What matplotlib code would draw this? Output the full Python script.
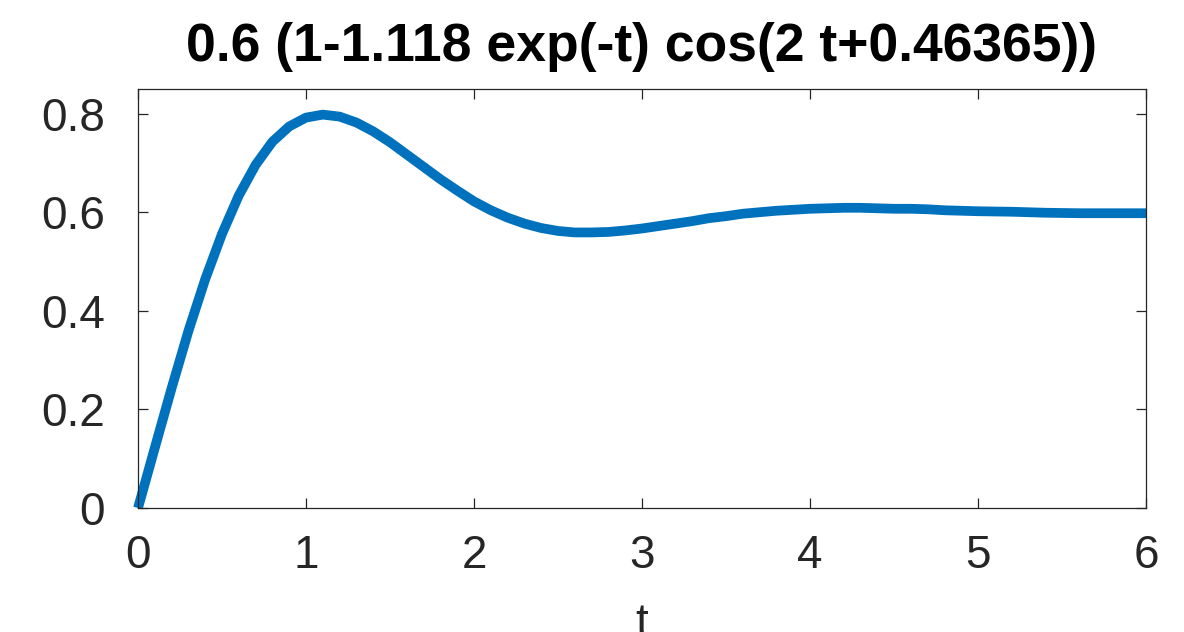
import numpy as np
import matplotlib.pyplot as plt

# step response values
t = [0.0, 0.1, 0.2, 0.3, 0.4, 0.5, 0.6, 0.7, 0.8, 0.9,
     1.0, 1.1, 1.2, 1.3, 1.4, 1.5, 1.6, 1.7, 1.8, 1.9,
     2.0, 2.1, 2.2, 2.3, 2.4, 2.5, 2.6, 2.7, 2.8, 2.9,
     3.0, 3.1, 3.2, 3.3, 3.4, 3.5, 3.6, 3.7, 3.8, 3.9,
     4.0, 4.1, 4.2, 4.3, 4.4, 4.5, 4.6, 4.7, 4.8, 4.9,
     5.0, 5.2, 5.4, 5.6, 5.8, 6.0]
y = [0.000, 0.122, 0.243, 0.359, 0.464, 0.556, 0.634, 0.696, 0.743, 0.774,
     0.792, 0.798, 0.794, 0.782, 0.764, 0.742, 0.717, 0.692, 0.667, 0.644,
     0.622, 0.604, 0.589, 0.577, 0.568, 0.562, 0.559, 0.559, 0.560, 0.563,
     0.567, 0.572, 0.577, 0.582, 0.588, 0.592, 0.597, 0.600, 0.603, 0.605,
     0.607, 0.608, 0.609, 0.609, 0.608, 0.607, 0.607, 0.606, 0.604, 0.603,
     0.602, 0.601, 0.599, 0.598, 0.598, 0.598]

xticks = [0, 1, 2, 3, 4, 5, 6]
yticks = [0, 0.2, 0.4, 0.6, 0.8]
ytick_labels = ['0', '0.2', '0.4', '0.6', '0.8']
title = '0.6 (1-1.118 exp(-t) cos(2 t+0.46365))'

plt.rcParams['font.family'] = ['Liberation Sans', 'DejaVu Sans']

W, H = 1184, 632
fig = plt.figure(figsize=(W / 100, H / 100), dpi=100)
ax = fig.add_axes([138 / W, 1 - 508 / H, (1146 - 138) / W, (508 - 89) / H])

ax.plot(t, y, color='#0072BD', lw=7, solid_capstyle='butt',
        solid_joinstyle='round', clip_on=False)

ax.set_xlim(0, 6)
ax.set_ylim(0, 0.85)
ax.set_xticks(xticks)
ax.set_xticklabels([str(v) for v in xticks])
ax.set_yticks(yticks)
ax.set_yticklabels(ytick_labels)

for s in ax.spines.values():
    s.set_color('#262626')
    s.set_linewidth(0.9)
ax.tick_params(direction='in', length=7, width=0.9, colors='#262626',
               labelsize=33, top=True, right=True)
ax.tick_params(axis='x', pad=19)
ax.tick_params(axis='y', pad=24)

ax.set_xlabel('t', fontsize=33, color='#262626', labelpad=17)
ax.set_title(title, fontsize=38.5, fontweight='bold', color='black', pad=20)

fig.savefig('out.png', dpi=100)
